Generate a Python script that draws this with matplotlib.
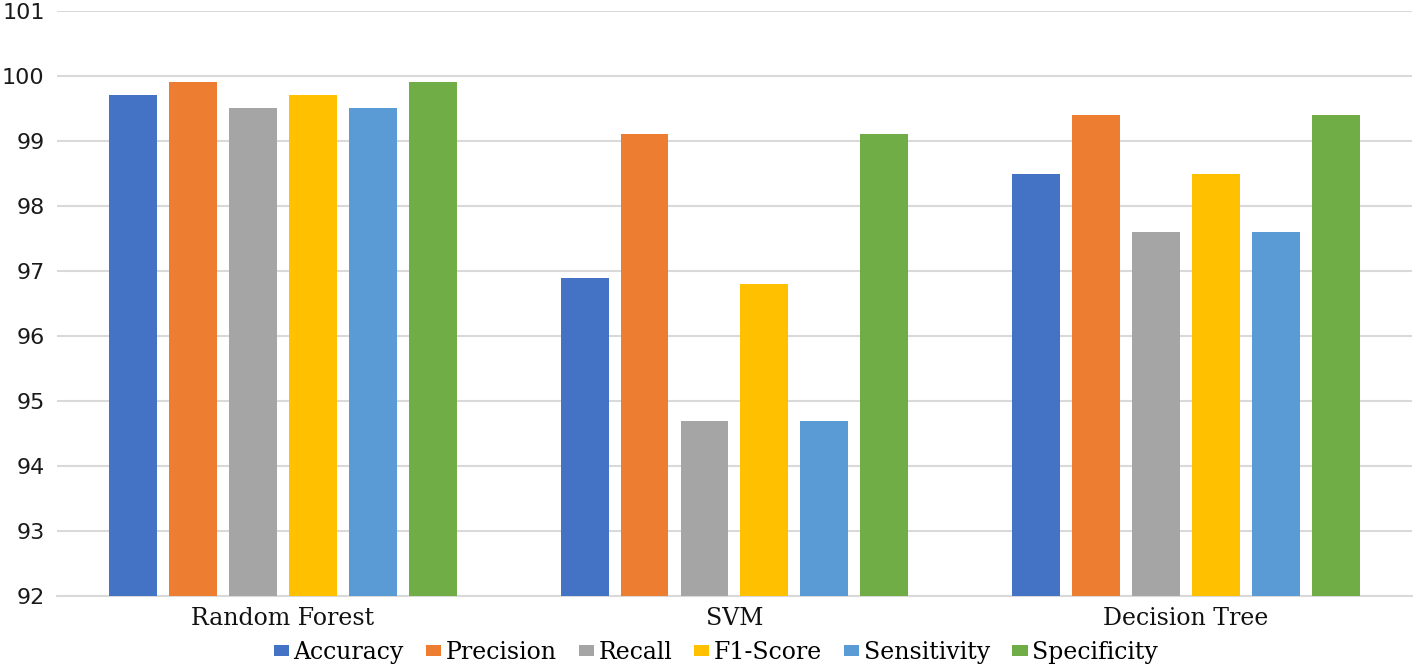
import matplotlib
matplotlib.use("Agg")
import matplotlib.pyplot as plt
import numpy as np

categories = ["Random Forest", "SVM", "Decision Tree"]
metrics = ["Accuracy", "Precision", "Recall", "F1-Score", "Sensitivity", "Specificity"]
accuracy = [99.7, 96.9, 98.5]
precision = [99.9, 99.1, 99.4]
recall = [99.5, 94.7, 97.6]
f1_score = [99.7, 96.8, 98.5]
sensitivity = [99.5, 94.7, 97.6]
specificity = [99.9, 99.1, 99.4]
yticks = [92, 93, 94, 95, 96, 97, 98, 99, 100, 101]

series = [accuracy, precision, recall, f1_score, sensitivity, specificity]
colors = ["#4472C4", "#ED7D31", "#A5A5A5", "#FFC000", "#5B9BD5", "#70AD47"]

fig = plt.figure(figsize=(14.16, 6.7), dpi=100)
ax = fig.add_axes([0.0403, 0.1104, 0.9567, 0.8732])

x = np.arange(len(categories))
step = 0.1327
width = 0.106
for i, (vals, col, name) in enumerate(zip(series, colors, metrics)):
    ax.bar(x + (i - 2.5) * step, np.array(vals) - 92, bottom=92, width=width,
           color=col, label=name, zorder=3)

ax.set_xlim(-0.5, 2.5)
ax.set_ylim(92, 101)
ax.set_yticks(yticks)
ax.set_yticklabels([str(t) for t in yticks], fontsize=16, family="DejaVu Sans", color="#1a1a1a")
ax.set_xticks(x)
ax.set_xticklabels(categories, fontsize=17, family="DejaVu Serif", color="#111111")
ax.tick_params(axis="both", length=0)
ax.tick_params(axis="y", pad=9)
ax.tick_params(axis="x", pad=8)
ax.grid(axis="y", color="#D9D9D9", linewidth=1.5, zorder=0)
for s in ["top", "right", "left"]:
    ax.spines[s].set_visible(False)
ax.spines["bottom"].set_color("#D9D9D9")
ax.spines["bottom"].set_linewidth(1.5)

leg = fig.legend(loc="center", bbox_to_anchor=(0.5056, 0.026), ncol=6, frameon=False,
                 prop={"family": "DejaVu Serif", "size": 17},
                 handlelength=0.64, handleheight=0.34, handletextpad=0.2,
                 columnspacing=0.93, borderaxespad=0)

fig.savefig("out.png", dpi=100)
